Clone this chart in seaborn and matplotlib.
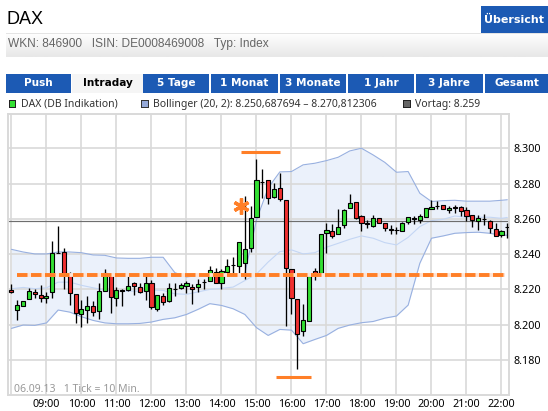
import matplotlib
matplotlib.use("Agg")
import matplotlib.pyplot as plt
from matplotlib.patches import Rectangle
import numpy as np
import pandas as pd
import seaborn as sns

W, H = 548, 411

# candles, one every 10 minutes from 08:00
opens = [8219.8, 8208.5, 8210.7, 8214.7, 8218.7, 8217.0, 8215.0, 8218.7, 8240.9, 8241.4,
         8228.0, 8217.5, 8206.2, 8208.3, 8210.7, 8207.7, 8219.2, 8228.8, 8215.3, 8219.5,
         8219.6, 8223.4, 8221.5, 8219.2, 8223.8, 8209.0, 8216.4, 8213.6, 8220.5, 8220.9,
         8221.9, 8221.5, 8221.3, 8224.2, 8224.5, 8230.0, 8223.4, 8229.6, 8234.1, 8233.5,
         8235.2, 8243.3, 8261.3, 8281.0, 8281.9, 8272.6, 8277.3, 8270.5, 8231.4, 8214.7,
         8196.4, 8202.0, 8230.6, 8229.4, 8251.8, 8253.3, 8251.2, 8256.3, 8266.4, 8269.4,
         8261.4, 8257.4, 8256.2, 8260.7, 8257.9, 8254.0, 8253.8, 8253.3, 8258.2, 8260.2,
         8259.2, 8261.3, 8265.4, 8267.4, 8268.0, 8264.8, 8266.5, 8266.6, 8264.9, 8262.0,
         8258.8, 8260.1, 8259.0, 8254.0, 8250.7, 8255.3]
highs = [8222.8, 8213.8, 8213.6, 8220.6, 8220.0, 8222.3, 8218.7, 8247.3, 8256.0, 8243.3,
         8229.7, 8217.5, 8213.8, 8216.4, 8213.4, 8223.8, 8231.5, 8229.0, 8221.5, 8220.0,
         8227.5, 8224.0, 8223.5, 8227.5, 8225.3, 8217.0, 8218.0, 8223.8, 8223.4, 8223.8,
         8224.7, 8222.8, 8225.7, 8225.7, 8233.5, 8232.0, 8231.5, 8237.0, 8238.6, 8246.7,
         8273.0, 8267.3, 8293.8, 8288.0, 8281.9, 8280.2, 8286.2, 8270.5, 8231.4, 8214.7,
         8211.5, 8227.5, 8232.0, 8251.2, 8257.5, 8257.1, 8265.4, 8265.4, 8273.9, 8269.4,
         8262.2, 8259.4, 8262.2, 8260.7, 8257.9, 8256.5, 8255.6, 8258.2, 8261.3, 8261.6,
         8263.0, 8266.0, 8270.7, 8270.0, 8268.0, 8267.3, 8267.7, 8267.3, 8266.6, 8262.0,
         8262.2, 8262.6, 8259.4, 8257.5, 8253.7, 8257.5]
lows = [8218.1, 8202.4, 8210.7, 8214.7, 8214.9, 8212.8, 8212.2, 8215.3, 8240.4, 8220.4,
        8211.0, 8201.0, 8198.6, 8201.0, 8204.9, 8203.4, 8219.2, 8206.8, 8210.5, 8210.5,
        8219.0, 8216.8, 8218.0, 8214.0, 8208.8, 8207.7, 8211.0, 8213.0, 8216.2, 8220.0,
        8218.0, 8211.5, 8218.7, 8220.4, 8224.5, 8223.8, 8220.0, 8229.0, 8229.0, 8228.5,
        8225.7, 8241.4, 8261.3, 8271.7, 8268.4, 8271.7, 8270.3, 8199.2, 8205.8, 8174.8,
        8193.5, 8202.0, 8225.3, 8229.4, 8240.5, 8249.4, 8251.2, 8255.0, 8266.0, 8260.0,
        8253.3, 8254.6, 8255.6, 8257.5, 8253.1, 8251.4, 8251.4, 8253.3, 8257.1, 8257.1,
        8257.9, 8260.9, 8265.4, 8265.8, 8265.4, 8263.1, 8263.5, 8261.6, 8259.0, 8255.6,
        8253.7, 8256.6, 8251.8, 8250.1, 8249.5, 8249.0]
closes = [8218.7, 8211.3, 8213.6, 8219.2, 8217.5, 8215.3, 8216.4, 8240.5, 8240.7, 8229.4,
          8218.0, 8206.8, 8209.0, 8210.7, 8207.3, 8219.2, 8229.1, 8215.8, 8219.8, 8219.3,
          8222.0, 8222.0, 8218.7, 8223.8, 8210.0, 8217.0, 8213.0, 8220.9, 8220.3, 8222.6,
          8223.4, 8220.4, 8223.2, 8224.0, 8230.8, 8223.8, 8230.6, 8233.5, 8233.9, 8246.7,
          8242.7, 8260.3, 8281.9, 8280.8, 8272.0, 8276.8, 8271.5, 8232.0, 8215.3, 8194.9,
          8202.8, 8227.5, 8229.4, 8251.2, 8253.5, 8250.5, 8255.2, 8264.9, 8268.8, 8260.7,
          8257.5, 8257.2, 8260.3, 8257.5, 8254.6, 8253.8, 8253.6, 8257.5, 8261.3, 8260.0,
          8261.8, 8266.0, 8266.6, 8267.2, 8265.4, 8266.0, 8266.3, 8264.3, 8261.4, 8259.2,
          8260.3, 8259.9, 8254.6, 8250.1, 8252.9, 8255.1]

# bollinger band readings
band_idx = [0, 2, 4, 6, 8, 10, 12, 14, 16, 18, 20, 22, 24, 26, 28, 30, 32, 34, 36, 38, 40, 42,
            44, 46, 48, 50, 52, 54, 56, 58, 60, 62, 64, 66, 68, 70, 72, 74, 76, 78, 80, 82, 84, 85]
band_upper = [8242.7, 8241.2, 8240.1, 8240.1, 8241.2, 8241.2, 8240.8, 8239.5, 8239.3, 8237.8, 8237.6,
              8237.6, 8238.2, 8238.2, 8229.5, 8227.0, 8228.0, 8228.0, 8228.0, 8228.5, 8229.0, 8259.4,
              8277.5, 8286.6, 8286.8, 8290.6, 8291.5, 8293.0, 8294.9, 8298.5, 8300.0, 8296.2,
              8292.0, 8286.4, 8286.8, 8274.5, 8269.8, 8270.3, 8270.5, 8270.0, 8270.0, 8270.0, 8270.5, 8270.8]
band_mid = [8220.4, 8221.1, 8220.4, 8220.9, 8224.1, 8224.1, 8222.3, 8220.9, 8219.6, 8219.0, 8219.0,
            8219.0, 8219.6, 8219.4, 8217.5, 8217.2, 8218.6, 8220.0, 8220.6, 8221.3, 8225.0, 8228.7,
            8235.5, 8241.4, 8242.4, 8240.1, 8240.8, 8243.9, 8246.1, 8248.4, 8250.3, 8249.0,
            8246.5, 8245.2, 8249.5, 8255.6, 8259.0, 8259.7, 8261.6, 8260.9, 8260.9, 8260.9, 8260.3, 8260.75]
band_lower = [8197.9, 8199.8, 8199.6, 8201.0, 8208.3, 8207.1, 8204.5, 8202.4, 8201.0, 8200.5, 8200.5,
              8200.7, 8201.5, 8203.0, 8203.9, 8205.8, 8208.7, 8211.9, 8210.9, 8209.0, 8205.8, 8198.3,
              8193.9, 8197.3, 8196.9, 8189.2, 8191.6, 8193.9, 8197.9, 8199.8, 8201.1, 8201.8,
              8203.7, 8204.9, 8211.1, 8234.8, 8249.0, 8250.3, 8251.8, 8252.2, 8252.4, 8251.8, 8250.7, 8250.69]

prev_close = 8259
dashed_level = 8228.1
dashed_span = [8.16, 22.1]
top_bar = [14.56, 15.67, 8297.7]
low_bar = [15.57, 16.57, 8170.3]
star_at = [14.56, 8267.2]

x_hours = list(range(8, 23))
x_labels = [""] + ["%02d:00" % h for h in x_hours[1:]]
y_ticks = [8180, 8200, 8220, 8240, 8260, 8280, 8300]
y_labels = ["8.180", "8.200", "8.220", "8.240", "8.260", "8.280", "8.300"]

tabs = ["Push", "Intraday", "5 Tage", "1 Monat", "3 Monate", "1 Jahr", "3 Jahre", "Gesamt"]
tab_left = [6, 72, 143, 211, 280, 348, 416, 485]
tab_right = [71, 143, 209, 278, 346, 414, 483, 548]

BLUE = "#1C5AB4"
GRID = "#D9D9D9"
ORANGE = "#FF7F27"

sns.set_theme(style="white")
plt.rcParams["font.family"] = ["Liberation Sans", "DejaVu Sans"]

fig = plt.figure(figsize=(W / 100, H / 100), dpi=100, facecolor="white")


def px_rect(x0, y0, x1, y1, color):
    fig.add_artist(Rectangle((x0 / W, 1 - y1 / H), (x1 - x0) / W, (y1 - y0) / H,
                             transform=fig.transFigure, facecolor=color, edgecolor="none"))


def px_text(x, y, s, **kw):
    kw.setdefault("va", "center")
    fig.text(x / W, 1 - y / H, s, **kw)


# header
px_text(7, 19, "DAX", fontsize=13, color="black")
px_rect(481, 6, 548, 33, BLUE)
px_text(514, 19.5, "Übersicht", fontsize=8, color="white", fontweight="bold",
        family="DejaVu Sans", ha="center")
grad = fig.add_axes([6 / W, 1 - 57 / H, (W - 6) / W, 24 / H])
grad.imshow(np.linspace(1, 0.91, 24).reshape(-1, 1), cmap="gray", vmin=0, vmax=1, aspect="auto")
grad.axis("off")
px_rect(6, 33, 548, 34.5, "#E4E4E4")
px_text(8, 44, "WKN: 846900   ISIN: DE0008469008   Typ: Index", fontsize=8.6, color="#666666")

# tabs
for name, x0, x1 in zip(tabs, tab_left, tab_right):
    active = name == "Intraday"
    px_rect(x0, 74, x1, 93, "#F5F5F5" if active else BLUE)
    px_text((x0 + x1) / 2, 83.5, name, fontsize=7.6, fontweight="bold", family="DejaVu Sans",
            color="black" if active else "white", ha="center")

# legend row
px_rect(9, 100, 16, 108, "#222222")
px_rect(10, 101, 15, 107, "#33E033")
px_text(21, 104, "DAX (DB Indikation)", fontsize=7.5, color="#333333", family="Noto Sans")
px_rect(141, 100, 149, 108, "#333333")
px_rect(142, 101, 148, 107, "#95A9D8")
px_text(153, 104, "Bollinger (20, 2): 8.250,687694 – 8.270,812306", fontsize=7.5, color="#333333",
        family="Noto Sans")
px_rect(403, 100, 411, 108, "#222222")
px_rect(404, 101, 410, 107, "#666666")
px_text(415, 104, "Vortag: 8.259", fontsize=7.5, color="#333333", family="Noto Sans")

# chart
left, right, top, bottom = 8.3, 509.3, 113.5, 394.7
ax = fig.add_axes([left / W, 1 - bottom / H, (right - left) / W, (bottom - top) / H])
ax.set_xlim(7.909, 22.223)
ax.set_ylim(8160.3, 8319.7)

t = 8 + np.arange(len(opens)) / 6
band_t = 8 + np.array(band_idx) / 6
bands = pd.DataFrame({"t": band_t, "upper": band_upper, "mid": band_mid, "lower": band_lower})

ax.fill_between(bands["t"], bands["lower"], bands["upper"], color="#EBF1FB", lw=0, zorder=1)
ax.set_axisbelow(False)
for h in x_hours:
    ax.axvline(h, color=GRID, lw=1.2, zorder=1.5)
for y in y_ticks:
    ax.axhline(y, color=GRID, lw=1.2, zorder=1.5)

sns.lineplot(data=bands, x="t", y="upper", color="#98B0E0", lw=0.8, ax=ax, zorder=2)
sns.lineplot(data=bands, x="t", y="lower", color="#98B0E0", lw=0.8, ax=ax, zorder=2)
sns.lineplot(data=bands, x="t", y="mid", color="#C4D6F4", lw=0.8, ax=ax, zorder=2)
ax.axhline(prev_close, color="#6E6E6E", lw=0.85, zorder=2.5)

o, c = np.array(opens), np.array(closes)
ax.vlines(t, lows, highs, color="black", lw=0.95, zorder=3)
ax.bar(t, c - o, bottom=o, width=0.115, color=np.where(c >= o, "#33E033", "#F03030"),
       edgecolor="black", lw=0.8, zorder=3.5)

# hand drawn marks
ax.plot(dashed_span, [dashed_level] * 2, color="#FFE3D3", lw=2.8, zorder=4, solid_capstyle="butt")
ax.plot(dashed_span, [dashed_level] * 2, color=ORANGE, lw=2.8, ls=(0, (2.7, 0.9)), zorder=4.5)
ax.plot(top_bar[:2], [top_bar[2]] * 2, color=ORANGE, lw=2.2, zorder=4.5, solid_capstyle="butt")
ax.plot(low_bar[:2], [low_bar[2]] * 2, color=ORANGE, lw=2.2, zorder=4.5, solid_capstyle="butt")
ax.plot(star_at[0], star_at[1], marker=(6, 2, 0), ms=11.5, mew=2.4, color=ORANGE, zorder=5)

ax.text(8.08, 8163.5, "06.09.13   1 Tick = 10 Min.", color="#999999", fontsize=7.5, family="Noto Sans",
        ha="left", va="center")

ax.set_xticks(x_hours)
ax.set_xticklabels(x_labels, fontsize=7.8, color="black", family="Noto Sans")
ax.yaxis.tick_right()
ax.set_yticks(y_ticks)
ax.set_yticklabels(y_labels, fontsize=7.8, color="black", family="Noto Sans")
ax.tick_params(axis="both", length=0, pad=3)
ax.set_xlabel("")
ax.set_ylabel("")
for s in ax.spines.values():
    s.set_color(GRID)
    s.set_linewidth(1.4)

fig.savefig("out.png", dpi=100)
